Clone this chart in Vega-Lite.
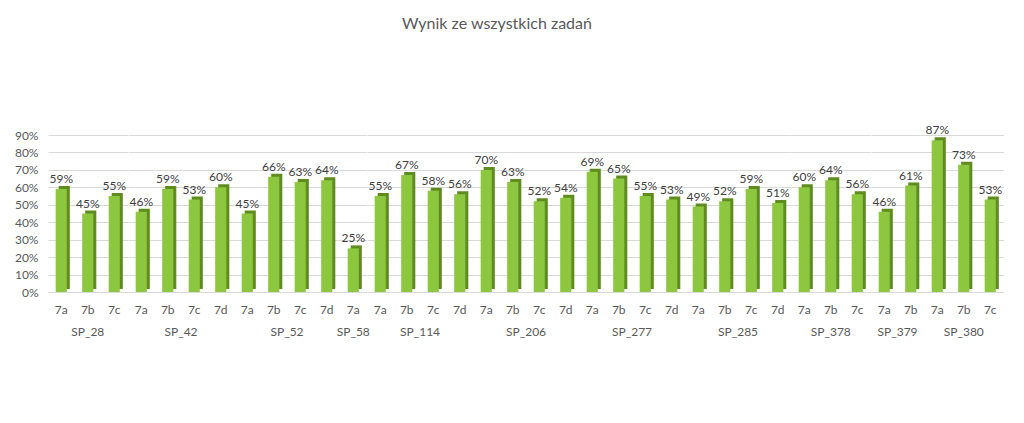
{
  "$schema": "https://vega.github.io/schema/vega-lite/v6.json",
  "background": "white",
  "padding": {"left": 14, "top": 16, "right": 10, "bottom": 10},
  "title": {"text": "Wynik ze wszystkich zadań", "font": "Lato", "fontSize": 16, "fontWeight": "normal", "color": "#595959", "offset": 92, "anchor": "middle", "dx": -12},
  "data": {"values": [
    {"school": "SP_28", "class": "7a", "value": 0.59},
    {"school": "SP_28", "class": "7b", "value": 0.45},
    {"school": "SP_28", "class": "7c", "value": 0.55},
    {"school": "SP_42", "class": "7a", "value": 0.46},
    {"school": "SP_42", "class": "7b", "value": 0.59},
    {"school": "SP_42", "class": "7c", "value": 0.53},
    {"school": "SP_42", "class": "7d", "value": 0.60},
    {"school": "SP_52", "class": "7a", "value": 0.45},
    {"school": "SP_52", "class": "7b", "value": 0.66},
    {"school": "SP_52", "class": "7c", "value": 0.63},
    {"school": "SP_52", "class": "7d", "value": 0.64},
    {"school": "SP_58", "class": "7a", "value": 0.25},
    {"school": "SP_114", "class": "7a", "value": 0.55},
    {"school": "SP_114", "class": "7b", "value": 0.67},
    {"school": "SP_114", "class": "7c", "value": 0.58},
    {"school": "SP_114", "class": "7d", "value": 0.56},
    {"school": "SP_206", "class": "7a", "value": 0.70},
    {"school": "SP_206", "class": "7b", "value": 0.63},
    {"school": "SP_206", "class": "7c", "value": 0.52},
    {"school": "SP_206", "class": "7d", "value": 0.54},
    {"school": "SP_277", "class": "7a", "value": 0.69},
    {"school": "SP_277", "class": "7b", "value": 0.65},
    {"school": "SP_277", "class": "7c", "value": 0.55},
    {"school": "SP_277", "class": "7d", "value": 0.53},
    {"school": "SP_285", "class": "7a", "value": 0.49},
    {"school": "SP_285", "class": "7b", "value": 0.52},
    {"school": "SP_285", "class": "7c", "value": 0.59},
    {"school": "SP_285", "class": "7d", "value": 0.51},
    {"school": "SP_378", "class": "7a", "value": 0.60},
    {"school": "SP_378", "class": "7b", "value": 0.64},
    {"school": "SP_378", "class": "7c", "value": 0.56},
    {"school": "SP_379", "class": "7a", "value": 0.46},
    {"school": "SP_379", "class": "7b", "value": 0.61},
    {"school": "SP_380", "class": "7a", "value": 0.87},
    {"school": "SP_380", "class": "7b", "value": 0.73},
    {"school": "SP_380", "class": "7c", "value": 0.53}
  ]},
  "facet": {"column": {"field": "school", "type": "nominal",
    "sort": ["SP_28", "SP_42", "SP_52", "SP_58", "SP_114", "SP_206", "SP_277", "SP_285", "SP_378", "SP_379", "SP_380"],
    "title": null,
    "header": {"labelOrient": "bottom", "labelFont": "Lato", "labelFontSize": 12, "labelColor": "#595959", "labelPadding": 12}}},
  "spacing": 0,
  "resolve": {"scale": {"x": "independent"}},
  "spec": {
    "width": {"step": 26.5},
    "height": 157,
    "encoding": {
      "x": {"field": "class", "type": "nominal", "sort": null,
        "scale": {"paddingInner": 0.58, "paddingOuter": 0.29},
        "axis": {"title": null, "labelAngle": 0, "domain": false, "ticks": false, "labelPadding": 12, "labelFont": "Lato", "labelFontSize": 12, "labelColor": "#595959"}},
      "y": {"field": "value", "type": "quantitative", "scale": {"domain": [0, 0.9]},
        "axis": {"title": null, "values": [0, 0.1, 0.2, 0.3, 0.4, 0.5, 0.6, 0.7, 0.8, 0.9], "format": ".0%", "domain": false, "ticks": false, "labelPadding": 10, "labelFont": "Lato", "labelFontSize": 12, "labelColor": "#595959", "gridColor": "#d9d9d9"}}
    },
    "layer": [
      {"mark": {"type": "bar", "color": "#5e8c1f", "xOffset": 3, "yOffset": -3, "y2Offset": -3}},
      {"mark": {"type": "bar", "color": "#8dc63f"}},
      {"mark": {"type": "text", "dy": -10, "font": "Lato", "fontSize": 12, "color": "#404040"},
       "encoding": {"text": {"field": "value", "type": "quantitative", "format": ".0%"}}}
    ]
  },
  "config": {"view": {"stroke": null}}
}
